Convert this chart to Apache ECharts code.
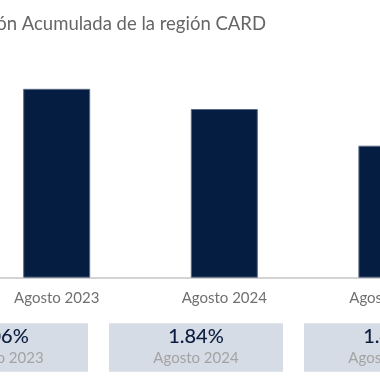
<!DOCTYPE html>
<html><head><meta charset="utf-8">
<script src="https://cdn.jsdelivr.net/npm/echarts@6/dist/echarts.min.js"></script>
<style>html,body{margin:0;padding:0;background:#fff}#c{width:380px;height:380px}</style>
</head><body><div id="c"></div>
<script>
var titleText = 'Inflación Acumulada de la región CARD';
var categories = ['Agosto 2023', 'Agosto 2024', 'Agosto 2025'];
var values = [2.06, 1.84, 1.44];
var FONT = 'Lato, "Noto Sans", sans-serif';

var chart = echarts.init(document.getElementById('c'), null, {renderer: 'canvas'});
chart.setOption({
  animation: false,
  backgroundColor: '#ffffff',
  graphic: [{
    type: 'text', right: 114, top: 15,
    style: {text: titleText, fill: '#666666', font: '18.5px ' + FONT}
  }],
  grid: [
    {left: -27.1, top: 48.5, width: 502.8, height: 229.2, outerBoundsMode: 'none', containLabel: false},
    {left: -96.5, top: 323.3, width: 585, height: 48.4, outerBoundsMode: 'none', containLabel: false}
  ],
  xAxis: [{
    gridIndex: 0, type: 'category', data: categories,
    axisLine: {lineStyle: {color: '#c4c4c4', width: 1.5}},
    axisTick: {show: false},
    axisLabel: {color: '#707070', fontSize: 15, fontFamily: FONT, margin: 13}
  }, {
    gridIndex: 1, type: 'category', data: categories,
    axisLine: {show: false}, axisTick: {show: false}, axisLabel: {show: false}
  }],
  yAxis: [{
    gridIndex: 0, type: 'value', min: 0, max: 2.5,
    show: false, splitLine: {show: false}
  }, {
    gridIndex: 1, type: 'value', min: 0, max: 1,
    show: false, splitLine: {show: false}
  }],
  series: [{
    type: 'bar', xAxisIndex: 0, yAxisIndex: 0, data: values,
    barWidth: 67,
    itemStyle: {color: '#061d42', borderColor: '#5b6a84', borderWidth: 1}
  }, {
    type: 'bar', xAxisIndex: 1, yAxisIndex: 1,
    data: values.map(function () { return 1; }),
    barWidth: 174,
    itemStyle: {color: '#d6dce5'},
    label: {
      show: true, position: 'inside',
      formatter: function (p) {
        return '{v|' + values[p.dataIndex].toFixed(2) + '%}\n{c|' + categories[p.dataIndex] + '}';
      },
      rich: {
        v: {fontSize: 20, color: '#0a1d40', fontFamily: FONT, lineHeight: 22, fontWeight: 500},
        c: {fontSize: 15, color: '#a3a3a3', fontFamily: FONT, lineHeight: 22}
      }
    }
  }]
});
</script></body></html>
